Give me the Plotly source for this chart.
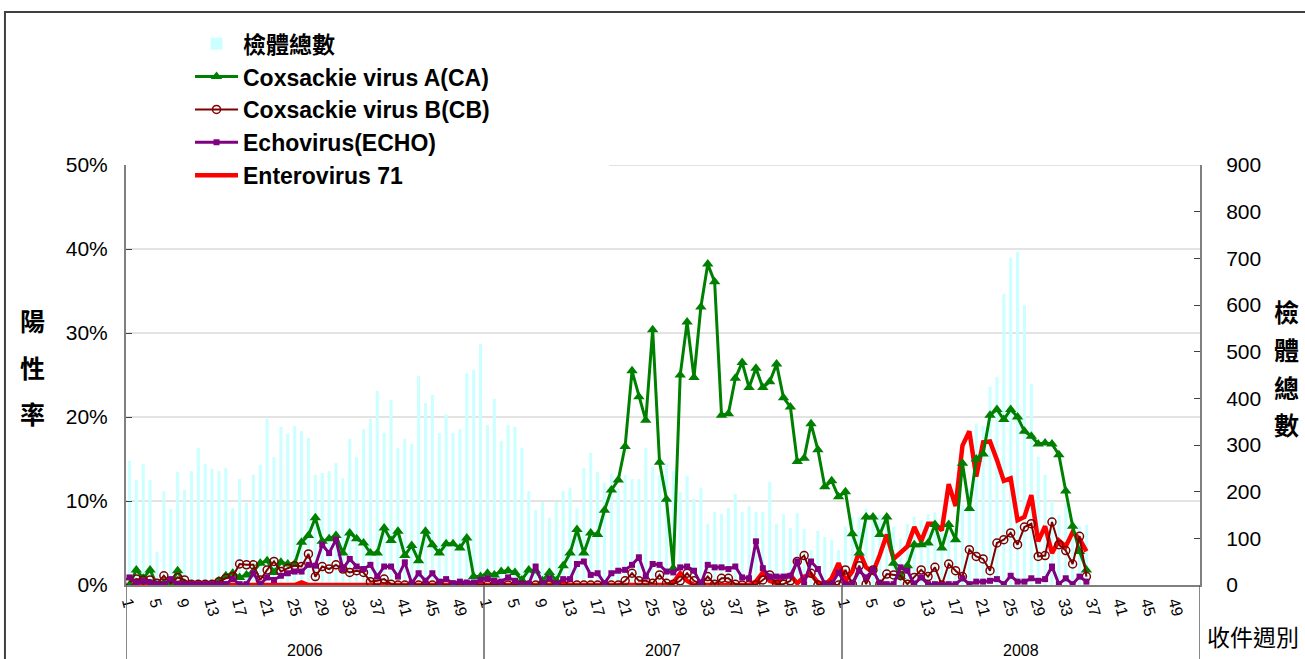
import plotly.graph_objects as go

# ---------------- data ----------------
YEARS = ["2006", "2007", "2008"]
WEEKS_PER_YEAR = 52
TICK_WEEKS = [1, 5, 9, 13, 17, 21, 25, 29, 33, 37, 41, 45, 49]

# total specimens (right axis)
specimens_2006 = [266, 225, 259, 225, 71, 201, 163, 242, 204, 244,
                  294, 259, 249, 244, 251, 165, 227, 176, 236, 257,
                  356, 274, 339, 324, 341, 330, 315, 236, 240, 244,
                  261, 229, 313, 274, 334, 356, 416, 326, 396, 294,
                  313, 302, 448, 390, 407, 326, 366, 326, 334, 454,
                  461, 516]
specimens_2007 = [343, 399, 309, 343, 339, 294, 201, 160, 178, 144,
                  178, 201, 208, 165, 251, 283, 242, 219, 239, 207,
                  236, 227, 227, 294, 253, 235, 261, 244, 199, 234,
                  184, 208, 131, 156, 152, 165, 195, 156, 169, 156,
                  156, 221, 131, 152, 122, 154, 120, 75, 116, 103,
                  96, 75]
specimens_2008 = [126, 146, 146, 163, 150, 150, 140, 125, 99, 131,
                  146, 139, 152, 156, 150, 107, 120, 171, 207, 346,
                  341, 425, 446, 624, 701, 714, 599, 431, 275, 236,
                  180, 149, 175, 140, 126, 129]

# positive rates (%) (left axis)
ca_2006 = [0, 1.8, 0.8, 1.8, 0, 0.3, 0, 1.7, 0, 0,
           0, 0, 0, 0.5, 1.1, 1.4, 0.9, 1.2, 1.6, 2.6,
           2.9, 1.5, 2.7, 2.5, 2.5, 5.1, 5.9, 8.0, 5.2, 5.5,
           5.9, 3.8, 6.2, 5.5, 5.0, 3.8, 3.8, 6.8, 5.3, 6.4,
           3.5, 4.7, 2.9, 6.4, 4.8, 3.8, 4.9, 4.9, 4.4, 5.6,
           1.0, 1.0]
ca_2007 = [1.4, 1.2, 1.6, 1.7, 1.5, 0.6, 1.8, 1.7, 0.5, 1.5,
           0.5, 2.3, 3.8, 6.6, 3.8, 6.2, 6.0, 8.9, 11.3, 12.5,
           16.5, 25.5, 22.4, 19.6, 30.4, 14.6, 10.2, 2.0, 25.0, 31.3,
           24.7, 33.1, 38.2, 36.1, 20.2, 20.4, 24.6, 26.5, 23.5, 25.8,
           23.5, 24.2, 26.3, 22.3, 21.2, 14.7, 15.1, 19.2, 16.1, 11.7,
           12.4, 10.5]
ca_2008 = [11.1, 6.1, 3.8, 8.1, 8.1, 6.0, 8.1, 2.6, 1.0, 2.3,
           4.8, 4.8, 5.0, 7.2, 4.4, 7.2, 5.4, 14.5, 9.1, 15.0,
           15.6, 20.2, 20.9, 19.7, 20.9, 20.0, 18.3, 17.7, 16.8, 16.9,
           16.8, 15.5, 11.2, 7.0, 4.0, 1.8]

cb_2006 = [0.4, 0.7, 0.6, 0.6, 0.2, 1.1, 0.2, 0.9, 0.6, 0.1,
           0.1, 0.1, 0.1, 0.4, 0.8, 1.0, 2.5, 2.4, 2.4, 0.6,
           1.8, 2.8, 1.6, 2.0, 2.3, 2.2, 3.7, 1.0, 2.2, 1.9,
           2.4, 1.9, 1.5, 1.7, 1.5, 0.4, 0.5, 0.7, 0.1, 0,
           0, 0, 0, 0, 0, 0, 0, 0, 0, 0,
           0, 0]
cb_2007 = [0, 0, 0, 0, 0, 0, 0, 0, 0, 0,
           0, 0, 0, 0, 0, 0, 0, 0, 0, 0,
           0.5, 1.4, 0.5, 0.5, 0.2, 1.2, 0.2, 0.1, 0.5, 1.4,
           0.5, 0.1, 1.0, 0.1, 0.8, 0.8, 0.1, 0, 0, 0,
           0.6, 1.2, 0.1, 0.1, 0.5, 2.8, 3.5, 1.4, 0, 0,
           0, 0]
cb_2008 = [1.8, 0.1, 2.3, 0.1, 1.8, 0.1, 1.3, 1.2, 1.1, 0.1,
           0.9, 1.8, 1.0, 2.1, 0, 2.5, 1.7, 1.0, 4.2, 3.4,
           3.1, 1.7, 5.0, 5.4, 6.2, 4.8, 6.9, 7.3, 3.4, 3.5,
           7.5, 4.8, 4.1, 2.5, 5.8, 1.0]

echo_2006 = [0.9, 0.3, 0.5, 0.3, 0.1, 0.1, 0.7, 0.1, 0.1, 0.1,
             0.1, 0.1, 0.1, 0.1, 0.1, 0.7, 0.1, 0.1, 1.4, 0.1,
             0.9, 0.6, 1.1, 1.4, 1.6, 1.6, 2.4, 2.3, 4.8, 3.8,
             5.4, 1.9, 3.1, 2.2, 1.9, 2.4, 1.0, 2.2, 2.2, 1.0,
             2.7, 0.2, 1.4, 0.5, 1.4, 0.4, 0.7, 0.2, 0.4, 0.3,
             0.3, 0.6]
echo_2007 = [0.8, 0.5, 0.4, 0.9, 0.5, 0.1, 0.1, 2.2, 0.1, 0.8,
             0.1, 0.7, 0.7, 2.5, 2.8, 1.2, 1.4, 0.2, 1.4, 1.7,
             1.8, 2.4, 3.3, 1.0, 2.5, 2.4, 1.6, 1.5, 2.1, 2.2,
             1.7, 0.1, 2.4, 2.1, 2.1, 1.9, 2.2, 0.9, 0.8, 5.2,
             2.0, 1.0, 1.0, 1.0, 1.1, 2.8, 0.1, 2.8, 1.9, 0.1,
             0.1, 1.5]
echo_2008 = [0.1, 0.1, 1.7, 0.9, 1.8, 0.1, 0.1, 0.1, 2.1, 1.7,
             0.1, 0.9, 0.1, 0.1, 0, 0.1, 0.1, 0.8, 0.1, 0.4,
             0.4, 0.5, 0.7, 0.1, 1.1, 0.4, 0.4, 0.8, 0.5, 0.7,
             2.2, 0.1, 0.8, 0.1, 1.0, 0.4]

ev71_2006 = [0, 0, 0, 0, 0, 0, 0, 0, 0, 0,
             0, 0, 0, 0, 0, 0, 0, 0, 0, 0,
             0, 0, 0, 0, 0, 0.3, 0, 0, 0, 0,
             0, 0, 0, 0, 0, 0, 0, 0, 0, 0,
             0, 0, 0, 0, 0, 0, 0, 0, 0, 0,
             0, 0]
ev71_2007 = [0, 0, 0, 0, 0, 0, 0, 0, 0, 0,
             0.2, 0.2, 0, 0, 0, 0, 0, 0, 0, 0,
             0, 0, 0, 0, 0, 0, 0, 0.3, 1.4, 0.5,
             0, 0, 0, 0, 0, 0, 0, 0, 0, 0.4,
             1.5, 0.5, 0.2, 1.0, 1.2, 0.2, 1.0, 1.3, 0.3, 0,
             0.8, 2.6]
ev71_2008 = [0.5, 1.6, 4.0, 2.1, 1.5, 3.6, 6.0, 3.1, 3.8, 4.6,
             6.9, 5.2, 7.3, 7.3, 6.5, 12.0, 9.4, 16.6, 18.3, 12.9,
             17.0, 17.1, 14.9, 12.4, 12.7, 7.7, 8.1, 10.7, 5.2, 7.0,
             3.8, 5.3, 4.6, 6.3, 5.5, 4.0]

# ---------------- build ----------------
def full(a, b, c):
    return a + b + c + [None] * (WEEKS_PER_YEAR - len(c))

n = WEEKS_PER_YEAR * len(YEARS)
xi = list(range(n))
tickvals = [k * WEEKS_PER_YEAR + (w - 1) for k in range(len(YEARS)) for w in TICK_WEEKS]
ticktext = [str(w) for k in range(len(YEARS)) for w in TICK_WEEKS]

specimens = full(specimens_2006, specimens_2007, specimens_2008)
ca = full(ca_2006, ca_2007, ca_2008)
cb = full(cb_2006, cb_2007, cb_2008)
echo = full(echo_2006, echo_2007, echo_2008)
ev71 = full(ev71_2006, ev71_2007, ev71_2008)

FONT = "Liberation Sans, Arial, sans-serif"
CJK = "Noto Sans CJK TC, sans-serif"

fig = go.Figure()
fig.add_trace(go.Bar(x=xi, y=specimens, name="檢體總數", yaxis="y",
                     marker=dict(color="#CCFFFF", line_width=0), legendrank=1))
fig.add_trace(go.Scatter(x=xi, y=ev71, name="Enterovirus 71", yaxis="y2", mode="lines",
                         line=dict(color="#FF0000", width=4.5), legendrank=5))
fig.add_trace(go.Scatter(x=xi, y=ca, name="Coxsackie virus A(CA)", yaxis="y2", mode="lines+markers",
                         line=dict(color="#008000", width=3),
                         marker=dict(symbol="triangle-up", size=10, color="#008000"), legendrank=2))
fig.add_trace(go.Scatter(x=xi, y=cb, name="Coxsackie virus B(CB)", yaxis="y2", mode="lines+markers",
                         line=dict(color="#800000", width=2),
                         marker=dict(symbol="circle-open", size=8, color="#800000", line=dict(width=1.5)),
                         legendrank=3))
fig.add_trace(go.Scatter(x=xi, y=echo, name="Echovirus(ECHO)", yaxis="y2", mode="lines+markers",
                         line=dict(color="#800080", width=3),
                         marker=dict(symbol="square", size=6, color="#800080"), legendrank=4))

shapes = []
# horizontal gridlines (percent axis)
for v in [10, 20, 30, 40]:
    shapes.append(dict(type="line", xref="paper", yref="y2", x0=0, x1=1, y0=v, y1=v,
                       line=dict(color="#E3E3E3", width=2), layer="below"))
shapes.append(dict(type="line", xref="paper", yref="y2", x0=0.45, x1=1, y0=50, y1=50,
                   line=dict(color="#E3E3E3", width=2), layer="below"))
# year separators below the axis
for k in range(len(YEARS) + 1):
    xs = k * WEEKS_PER_YEAR - 0.5
    shapes.append(dict(type="line", xref="x", yref="paper", x0=xs, x1=xs, y0=0, y1=-0.2,
                       line=dict(color="#606060", width=1.5)))
# outer chart frame
shapes.append(dict(type="rect", xref="paper", yref="paper", x0=-0.1127, x1=1.2, y0=-0.4, y1=1.364,
                   line=dict(color="#404040", width=2), fillcolor="rgba(0,0,0,0)"))

annotations = []
for k, yr in enumerate(YEARS):
    annotations.append(dict(x=k * WEEKS_PER_YEAR + (WEEKS_PER_YEAR - 1) / 2, y=-0.155,
                            xref="x", yref="paper", text=yr, showarrow=False,
                            xanchor="center", yanchor="middle",
                            font=dict(family=FONT, size=16, color="black")))
for ch, yy in zip("陽性率", [0.631, 0.519, 0.410]):
    annotations.append(dict(x=-0.0866, y=yy, xref="paper", yref="paper", text=ch, showarrow=False,
                            xanchor="center", yanchor="middle",
                            font=dict(family=CJK, size=25, color="black", weight="bold")))
for ch, yy in zip("檢體總數", [0.652, 0.562, 0.471, 0.383]):
    annotations.append(dict(x=1.081, y=yy, xref="paper", yref="paper", text=ch, showarrow=False,
                            xanchor="center", yanchor="middle",
                            font=dict(family=CJK, size=25, color="black", weight="bold")))
annotations.append(dict(x=1.0047, y=-0.121, xref="paper", yref="paper", text="收件週別",
                        xanchor="left", yanchor="middle", showarrow=False,
                        font=dict(family=CJK, size=23, color="black")))

fig.update_layout(
    width=1305, height=659, autosize=False,
    margin=dict(l=126, r=105, t=165, b=74),
    paper_bgcolor="white", plot_bgcolor="white",
    bargap=0.55,
    showlegend=True,
    legend=dict(x=0.0596, y=1.340, xanchor="left", yanchor="top", bgcolor="white",
                font=dict(family=FONT + ", Noto Sans CJK TC", size=23, color="black", weight="bold"),
                tracegroupgap=0, itemwidth=43),
    xaxis=dict(range=[-0.5, n - 0.5], tickmode="array", tickvals=tickvals, ticktext=ticktext,
               tickangle=75, tickfont=dict(family=FONT, size=16, color="black"),
               showgrid=False, zeroline=False, showline=True, linecolor="#808080", linewidth=2,
               ticks=""),
    yaxis=dict(side="right", range=[0, 900], dtick=100, showgrid=False, zeroline=False,
               showline=True, linecolor="#808080", linewidth=2, ticks="inside", ticklen=6,
               tickcolor="#404040", ticklabelstandoff=20,
               tickfont=dict(family=FONT, size=21, color="black")),
    yaxis2=dict(side="left", overlaying="y", anchor="x", range=[0, 50], dtick=10, ticksuffix="%",
                showgrid=False, zeroline=False, showline=True, linecolor="#808080", linewidth=2,
                ticks="inside", ticklen=6, tickcolor="#404040", ticklabelstandoff=12,
                tickfont=dict(family=FONT, size=21, color="black")),
    shapes=shapes,
    annotations=annotations,
)

fig.write_html("out.html", config={"displayModeBar": False},
               post_script="document.body.style.margin='0px';")
